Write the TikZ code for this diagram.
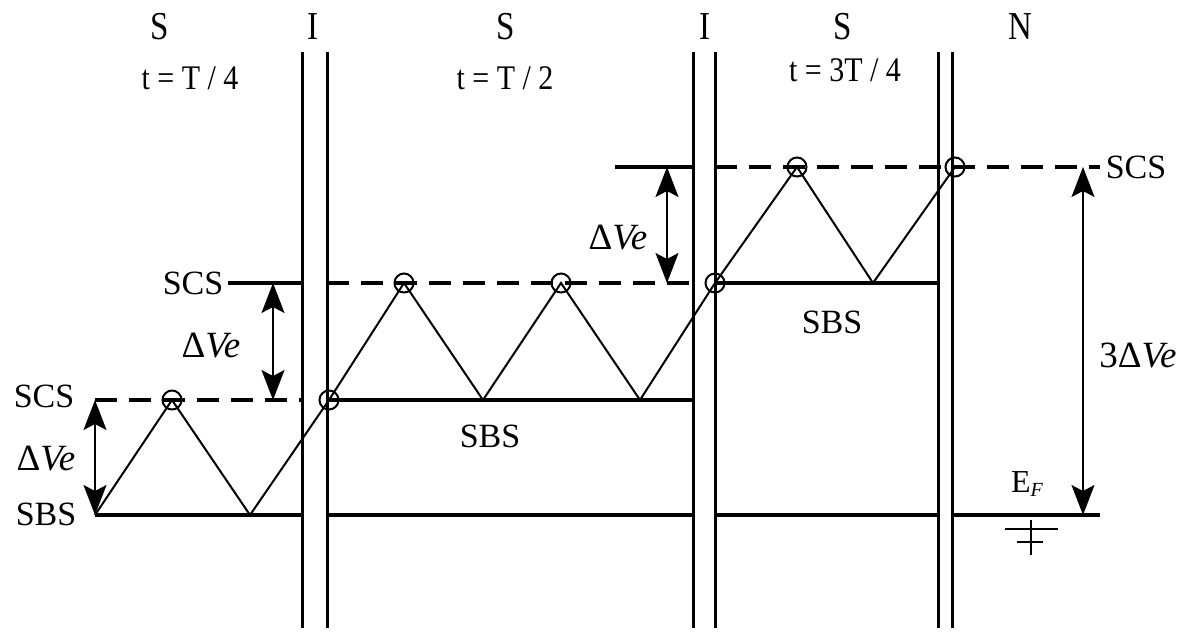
\documentclass[tikz,border=0pt]{standalone}
\usepackage{fontspec}
\setmainfont{Liberation Serif}
\usetikzlibrary{arrows.meta}
\begin{document}
\begin{tikzpicture}[x=1pt,y=-1pt,
  wall/.style={line width=3pt},
  level/.style={line width=3.2pt},
  dlevel/.style={line width=3.2pt, dash pattern=on 22pt off 12pt},
  zig/.style={line width=2pt},
  ring/.style={circle, draw, line width=2pt, minimum size=19pt, inner sep=0pt},
  lbl/.style={font=\fontsize{34}{34}\selectfont, inner sep=0pt},
  dvlbl/.style={font=\fontsize{37}{37}\selectfont, inner sep=0pt},
  toplbl/.style={font=\fontsize{33}{33}\selectfont, inner sep=0pt},
  tlbl/.style={font=\fontsize{30}{30}\selectfont, inner sep=0pt},
  dim/.style={line width=1.6pt, {Stealth[length=30pt,width=23pt,inset=6pt]}-{Stealth[length=30pt,width=23pt,inset=6pt]}}
]
\useasboundingbox (0,0) rectangle (1188,633);
\fill[white] (0,0) rectangle (1188,633);

% barriers
\foreach \x in {302,327,693,715,938,952}{
  \draw[wall] (\x,52) -- (\x,628);
}

% level coordinates
\coordinate (a0) at (95,515);
\coordinate (a1) at (302,515);
\coordinate (b0) at (327,515);
\coordinate (b1) at (693,515);
\coordinate (c0) at (715,515);
\coordinate (c1) at (938,515);
\coordinate (d0) at (952,515);
\coordinate (d1) at (1100,515);
\draw[level] (a0) -- (a1);
\draw[level] (b0) -- (b1);
\draw[level] (c0) -- (c1);
\draw[level] (d0) -- (d1);

\coordinate (s1a) at (95,400);
\coordinate (s1b) at (302,400);
\draw[dlevel] (s1a) -- (s1b);
\coordinate (m0) at (327,400);
\coordinate (m1) at (693,400);
\draw[level] (m0) -- (m1);

\coordinate (st2a) at (228,283);
\coordinate (st2b) at (302,283);
\draw[level] (st2a) -- (st2b);
\coordinate (s2a) at (327,283);
\coordinate (s2b) at (693,283);
\draw[dlevel] (s2a) -- (s2b);
\coordinate (r0) at (715,283);
\coordinate (r1) at (938,283);
\draw[level] (r0) -- (r1);

\coordinate (st3a) at (615,167);
\coordinate (st3b) at (693,167);
\draw[level] (st3a) -- (st3b);
\coordinate (s3a) at (715,167);
\coordinate (s3b) at (1100,167);
\draw[dlevel] (s3a) -- (s3b);

% rings
\node[ring] (p1) at (172,400) {};
\node[ring] (p2) at (329,400) {};
\node[ring] (p3) at (404,283) {};
\node[ring] (p4) at (561,283) {};
\node[ring] (p5) at (715,283) {};
\node[ring] (p6) at (797,167) {};
\node[ring] (p7) at (955,167) {};

% zigzag
\coordinate (z0) at (95,515);
\coordinate (z1) at (250,515);
\coordinate (z2) at (483,400);
\coordinate (z3) at (640,400);
\coordinate (z4) at (873,283);
\draw[zig] (z0) -- (p1.center) -- (z1) -- (p2.center) -- (p3.center) -- (z2) -- (p4.center) -- (z3) -- (p5.center) -- (p6.center) -- (z4) -- (p7.center);

% dimension arrows
\coordinate (d1t) at (95,400);
\coordinate (d1b) at (95,515);
\draw[dim] (d1t) -- (d1b);
\coordinate (d2t) at (273,283);
\coordinate (d2b) at (273,400);
\draw[dim] (d2t) -- (d2b);
\coordinate (d3t) at (667,167);
\coordinate (d3b) at (667,283);
\draw[dim] (d3t) -- (d3b);
\coordinate (d4t) at (1083,167);
\coordinate (d4b) at (1083,515);
\draw[dim] (d4t) -- (d4b);

% Fermi symbol
\coordinate (g1a) at (1005,529);
\coordinate (g1b) at (1058,529);
\coordinate (g2a) at (1017,542);
\coordinate (g2b) at (1043,542);
\coordinate (g3a) at (1031,520);
\coordinate (g3b) at (1031,555);
\draw[line width=2pt] (g1a) -- (g1b);
\draw[line width=2pt] (g2a) -- (g2b);
\draw[line width=2pt] (g3a) -- (g3b);

% top labels
\node[toplbl] (tS1) at (160,27) {\scalebox{1}[1.2]{S}};
\node[toplbl] (tI1) at (313,27) {\scalebox{1}[1.2]{I}};
\node[toplbl] (tS2) at (506,27) {\scalebox{1}[1.2]{S}};
\node[toplbl] (tI2) at (705,27) {\scalebox{1}[1.2]{I}};
\node[toplbl] (tS3) at (843,27) {\scalebox{1}[1.2]{S}};
\node[toplbl] (tN) at (1020,27) {\scalebox{1}[1.2]{N}};

\node[tlbl] (t1) at (190,78) {\scalebox{1}[1.15]{t = T / 4}};
\node[tlbl] (t2) at (505,78) {\scalebox{1}[1.15]{t = T / 2}};
\node[tlbl] (t3) at (845,70) {\scalebox{1}[1.15]{t = 3T / 4}};

% level labels
\node[lbl] (l1) at (44,396) {SCS};
\node[lbl] (l2) at (46,514) {SBS};
\node[lbl] (l3) at (193,283) {SCS};
\node[lbl] (l4) at (490,436) {SBS};
\node[lbl] (l5) at (832,322) {SBS};
\node[lbl] (l6) at (1136,167) {SCS};

\node[dvlbl] (v1) at (46,459) {Δ\textit{Ve}};
\node[dvlbl] (v2) at (211,346) {Δ\textit{Ve}};
\node[dvlbl] (v3) at (618,238) {Δ\textit{Ve}};
\node[dvlbl] (v4) at (1138,356) {3Δ\textit{Ve}};

\node[inner sep=0pt, font=\fontsize{32}{32}\selectfont] (ef) at (1027,484) {E\raisebox{-0.3ex}{\fontsize{20}{20}\selectfont\textit{F}}};
\end{tikzpicture}
\end{document}
